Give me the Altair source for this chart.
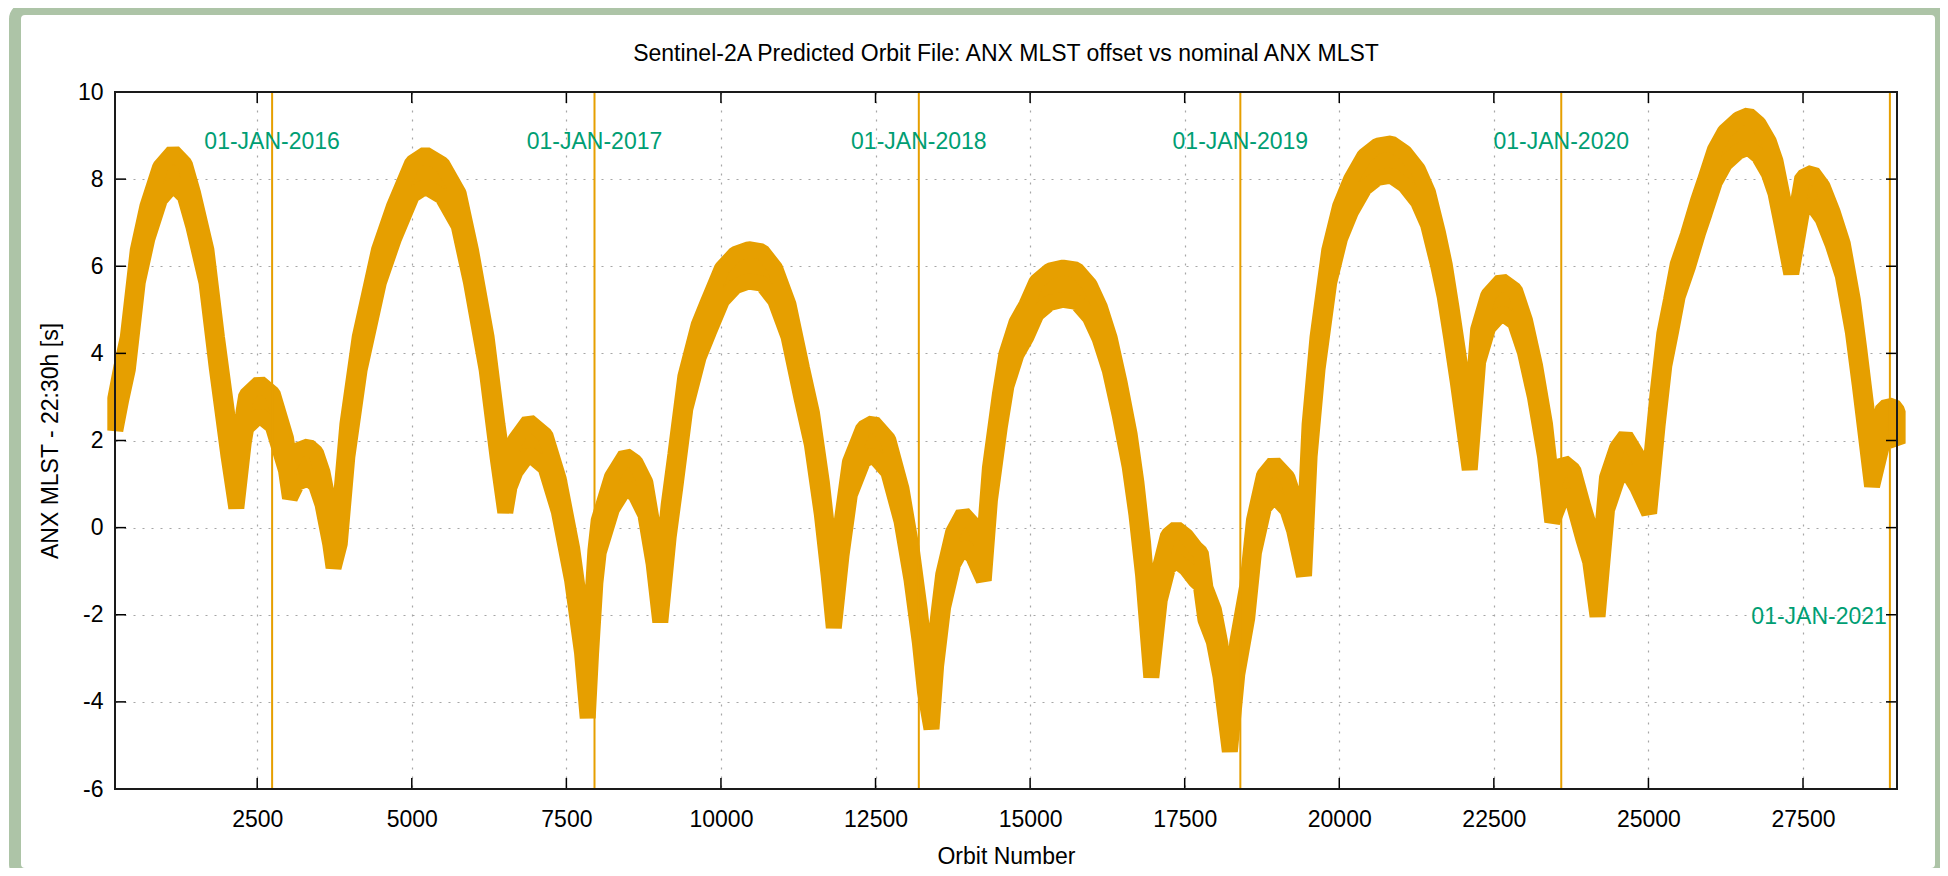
import altair as alt
import pandas as pd

TITLE = "Sentinel-2A Predicted Orbit File: ANX MLST offset vs nominal ANX MLST"
X_TITLE = "Orbit Number"
Y_TITLE = "ANX MLST - 22:30h [s]"

# centre line of the orbit-by-orbit band
orbits = [205, 300, 407, 568, 723, 927, 1141, 1330, 1464, 1679, 1849, 2037, 2162, 2280,
          2322, 2537, 2751, 2966, 3030, 3150, 3329, 3450, 3556, 3680, 3735, 3835, 3958,
          4157, 4468, 4710, 5006, 5221, 5490, 5758, 5957, 6210, 6386, 6512, 6580, 6676,
          6891, 7161, 7376, 7592, 7753, 7845, 7900, 7969, 8023, 8238, 8454, 8615, 8777,
          8912, 9019, 9154, 9262, 9424, 9639, 9801, 10016, 10232, 10447, 10663, 10878,
          11093, 11309, 11471, 11632, 11740, 11825, 11950, 12085, 12301, 12462, 12705,
          12920, 13082, 13217, 13300, 13405, 13480, 13594, 13755, 13917, 14079, 14250,
          14350, 14510, 14617, 14779, 14941, 15102, 15318, 15533, 15749, 15964, 16126,
          16288, 16449, 16611, 16719, 16827, 16960, 17096, 17230, 17365, 17527, 17680,
          17760, 17836, 17971, 18079, 18230, 18350, 18512, 18620, 18783, 18945, 19161,
          19269, 19430, 19520, 19648, 19838, 20011, 20189, 20406, 20622, 20839, 21055,
          21272, 21434, 21596, 21704, 21813, 21921, 22110, 22246, 22408, 22624, 22841,
          23003, 23165, 23328, 23445, 23622, 23785, 23949, 24058, 24177, 24330, 24493,
          24630, 24820, 25011, 25147, 25256, 25365, 25474, 25637, 25801, 25910, 26073,
          26236, 26454, 26618, 26781, 26945, 27054, 27163, 27310, 27489, 27653, 27816,
          27980, 28143, 28306, 28415, 28617, 28797, 28960, 29030]
mlst_center = [2.6, 3.3, 4.0, 6.0, 7.0, 7.9, 8.25, 7.97, 7.3, 6.0, 4.0, 2.0, 0.82, 2.3,
               2.66, 2.95, 2.7, 1.68, 1.05, 1.4, 1.5, 1.35, 0.9, 0.0, -0.55, 0.0, 2.0,
               4.0, 6.0, 7.0, 8.0, 8.2, 7.97, 7.3, 6.0, 4.0, 2.0, 0.72, 1.3, 1.65,
               2.07, 1.75, 0.75, -0.83, -2.5, -4.0, -2.5, -0.9, -0.2, 0.8, 1.29, 1.13, 0.67,
               -0.47, -1.8, 0.15, 1.3, 3.1, 4.28, 4.85, 5.58, 5.91, 6.02, 5.97, 5.58,
               4.75, 3.3, 2.27, 0.67, -0.7, -1.93, -0.26, 1.13, 1.91, 2.04, 1.65,
               0.52, -0.83, -2.27, -3.4, -4.25, -2.8, -1.45, -0.47, -0.05, -0.3, -0.84,
               1.0, 2.68, 3.62, 4.34, 4.75, 5.27, 5.53, 5.6, 5.55, 5.2, 4.7,
               3.98, 2.95, 1.76, 0.67, -0.72, -3.07, -1.3, -0.55, -0.39, -0.57, -0.85,
               -0.95, -1.75, -2.25, -3.05, -4.77, -3.0, -1.7, -0.2, 0.83, 1.11, 0.78,
               0.31, -0.74, 2.0, 4.0, 6.0, 7.0, 7.62, 8.16, 8.4, 8.45, 8.24,
               7.85, 7.33, 6.4, 5.68, 4.7, 3.67, 1.7, 4.18, 4.96, 5.3, 5.08,
               4.39, 3.36, 2.0, 0.5, 1.14, 0.95, 0.1, -0.41, -1.67, 0.78, 1.47,
               1.73, 1.29, 0.7, 2.7, 4.08, 4.86, 5.68, 6.35, 7.13, 7.59, 8.3,
               8.72, 9.0, 9.1, 8.9, 8.5, 8.05, 7.28, 6.2, 7.67, 7.78, 7.46,
               6.87, 6.15, 4.86, 3.67, 1.32, 2.38, 2.43, 2.3]
band_half = 0.37  # half spread of the per-orbit scatter

date_text = ["01-JAN-2016", "01-JAN-2017", "01-JAN-2018", "01-JAN-2019", "01-JAN-2020", "01-JAN-2021"]
date_orbit = [2741, 7955, 13200, 18400, 23590, 28905]
date_label_y = [8.85, 8.85, 8.85, 8.85, 8.85, -2.05]
date_label_align = ["center", "center", "center", "center", "center", "right"]

x_ticks = [2500, 5000, 7500, 10000, 12500, 15000, 17500, 20000, 22500, 25000, 27500]
y_ticks = [-6, -4, -2, 0, 2, 4, 6, 8, 10]

W, H = 1782, 697
ORANGE = "#e69f00"
GREEN = "#009e73"
FRAME = "#adc4a7"
FONT = "Liberation Sans"
MINUS = "\u2212"

xs = alt.Scale(domain=[200, 29020], nice=False, zero=False)
ys = alt.Scale(domain=[-6, 10], nice=False, zero=False)

AX_X = alt.Axis(values=x_ticks, format="d", title=X_TITLE, labelPadding=30, labelBaseline="middle",
                titleX=W / 2, titleY=67, titleBaseline="middle", titleAlign="center",
                grid=True, ticks=False, domain=False)
AX_Y = alt.Axis(values=y_ticks, format="d", title=Y_TITLE, labelPadding=12, labelBaseline="middle",
                labelExpr="replace(datum.label, '" + MINUS + "', '-')",
                titleX=-65, titleY=H / 2, titleAngle=270, titleBaseline="middle",
                titleAlign="center", grid=True, ticks=False, domain=False)

band_df = pd.DataFrame({
    "orbit": orbits,
    "lo": [c - band_half for c in mlst_center],
    "hi": [c + band_half for c in mlst_center],
})
date_df = pd.DataFrame({"orbit": date_orbit, "text": date_text, "lo": date_label_y, "al": date_label_align})
xt_df = pd.DataFrame({"orbit": x_ticks})
yt_df = pd.DataFrame({"lo": y_ticks})
one = pd.DataFrame({"k": [0]})

X_ENC = alt.X("orbit:Q", scale=xs, axis=AX_X, title=X_TITLE)
Y_ENC = alt.Y("lo:Q", scale=ys, axis=AX_Y, title=Y_TITLE)

band = alt.Chart(band_df).mark_area(
    color=ORANGE, stroke=ORANGE, strokeWidth=16, strokeJoin="bevel", opacity=1
).encode(x=X_ENC, y=Y_ENC, y2="hi:Q")

rules = alt.Chart(date_df).mark_rule(color=ORANGE, strokeWidth=2).encode(x=X_ENC)

lab_c = alt.Chart(date_df).transform_filter(alt.datum.al == "center").mark_text(
    align="center", baseline="middle", font=FONT, fontSize=23, color=GREEN
).encode(x=X_ENC, y=Y_ENC, text="text:N")
lab_r = alt.Chart(date_df).transform_filter(alt.datum.al == "right").mark_text(
    align="right", baseline="middle", font=FONT, fontSize=23, color=GREEN, dx=-3
).encode(x=X_ENC, y=Y_ENC, text="text:N")

TK = 11
tick_b = alt.Chart(xt_df).mark_rule(color="black", strokeWidth=1.5).encode(
    x=X_ENC, y=alt.value(H), y2=alt.value(H - TK))
tick_t = alt.Chart(xt_df).mark_rule(color="black", strokeWidth=1.5).encode(
    x=X_ENC, y=alt.value(0), y2=alt.value(TK))
tick_l = alt.Chart(yt_df).mark_rule(color="black", strokeWidth=1.5).encode(
    y=Y_ENC, x=alt.value(0), x2=alt.value(TK))
tick_r = alt.Chart(yt_df).mark_rule(color="black", strokeWidth=1.5).encode(
    y=Y_ENC, x=alt.value(W), x2=alt.value(W - TK))

border = alt.Chart(one).mark_rect(fillOpacity=0, stroke="#1a1a1a", strokeWidth=2).encode(
    x=alt.value(0), x2=alt.value(W), y=alt.value(0), y2=alt.value(H))

frame = alt.Chart(one).mark_rect(fillOpacity=0, stroke=FRAME, strokeWidth=12, cornerRadius=10).encode(
    x=alt.value(-100), x2=alt.value(1826), y=alt.value(-83), y2=alt.value(782))

title_df = pd.DataFrame({"t": [TITLE]})
title_txt = alt.Chart(title_df).mark_text(
    font=FONT, fontSize=23, baseline="middle", align="center", color="black"
).encode(x=alt.value(W / 2), y=alt.value(-38), text="t:N")

chart = alt.layer(
    band, rules, lab_c, lab_r, tick_b, tick_t, tick_l, tick_r, border, frame, title_txt
).properties(
    width=W, height=H,
    padding={"left": 107, "top": 84, "right": 43, "bottom": 79},
    autosize=alt.AutoSizeParams(type="none"),
    background="white",
).configure_view(
    strokeWidth=0
).configure_axis(
    labelFont=FONT, labelFontSize=23, labelColor="black",
    titleFont=FONT, titleFontSize=23, titleColor="black", titleFontWeight="normal",
    gridColor="#a6a6a6", gridDash=[2, 7], gridWidth=1.2,
)

chart.save("out.html", embed_options={"renderer": "svg", "actions": False})
